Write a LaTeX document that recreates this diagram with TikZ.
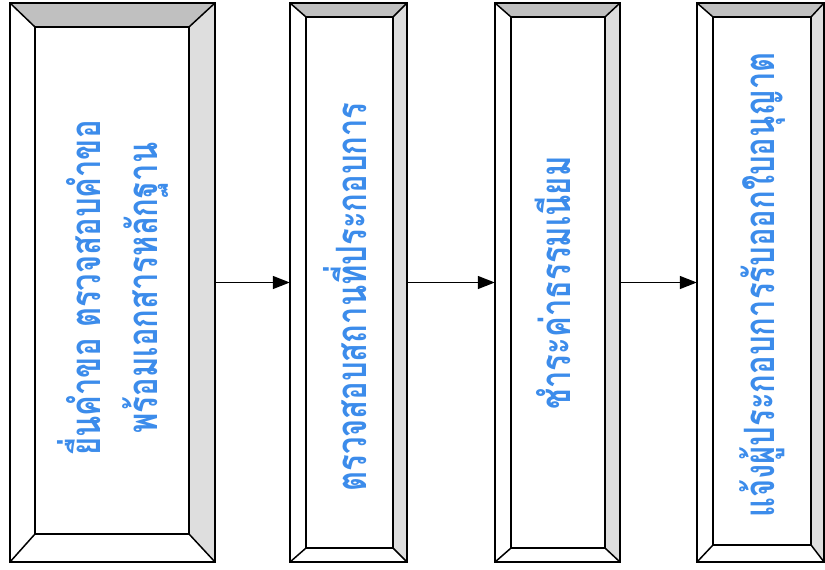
\documentclass[tikz,border=0pt]{standalone}
\usepackage{graphicx}
\usepackage{fontspec}
\newfontfamily\thai[Script=Thai]{Loma}
\usetikzlibrary{fit,arrows.meta}
\definecolor{txtblue}{RGB}{60,140,235}
\definecolor{bevtop}{RGB}{192,192,192}
\definecolor{bevright}{RGB}{222,222,222}
\newcommand\talltxt[1]{\scalebox{1}[1.35]{#1}}
\newcommand\bevelbox[3]{%
  \node[frame, fit={#2}] (#1o) {};
  \node[frame, fit={#3}] (#1i) {};
  \fill[bevtop] (#1o.north west) -- (#1o.north east) -- (#1i.north east) -- (#1i.north west) -- cycle;
  \fill[bevright] (#1o.north east) -- (#1o.south east) -- (#1i.south east) -- (#1i.north east) -- cycle;
  \draw[bline] (#1o.north west) rectangle (#1o.south east);
  \draw[bline] (#1i.north west) rectangle (#1i.south east);
  \draw[bline] (#1o.north west) -- (#1i.north west);
  \draw[bline] (#1o.north east) -- (#1i.north east);
  \draw[bline] (#1o.south west) -- (#1i.south west);
  \draw[bline] (#1o.south east) -- (#1i.south east);
}
\begin{document}
\begin{tikzpicture}[x=1pt,y=-1pt,
  frame/.style={inner sep=0pt, draw=none},
  bline/.style={black, line width=1.5pt, line join=miter},
  lbl/.style={font=\thai\bfseries\fontsize{31}{42}\selectfont, text=txtblue, rotate=90, align=center, inner sep=0pt},
  arr/.style={-{Triangle[length=17pt,width=13pt]}, line width=1.3pt}]
\useasboundingbox (0,0) rectangle (825,570);
\fill[white] (0,0) rectangle (825,570);
\bevelbox{b1}{(10,3) (215,562)}{(35,27) (189,534)}
\bevelbox{b2}{(290,3) (407,562)}{(306,17) (393,548)}
\bevelbox{b3}{(495,3) (620,562)}{(511,17) (605,548)}
\bevelbox{b4}{(697,3) (824,562)}{(713,17) (811,545)}
\node[lbl] (t1) at (116,288) {\talltxt{\begin{tabular}{@{}c@{}}ยื่นคำขอ ตรวจสอบคำขอ\\พร้อมเอกสารหลักฐาน\end{tabular}}};
\node[lbl] (t2) at (345,297) {\talltxt{ตรวจสอบสถานที่ประกอบการ}};
\node[lbl] (t3) at (553,283) {\talltxt{ชำระค่าธรรมเนียม}};
\node[lbl] (t4) at (762,285) {\talltxt{แจ้งผู้ประกอบการรับออกใบอนุญาต}};
\draw[arr] (b1o.east) -- (b2o.west);
\draw[arr] (b2o.east) -- (b3o.west);
\draw[arr] (b3o.east) -- (b4o.west);
\end{tikzpicture}
\end{document}
